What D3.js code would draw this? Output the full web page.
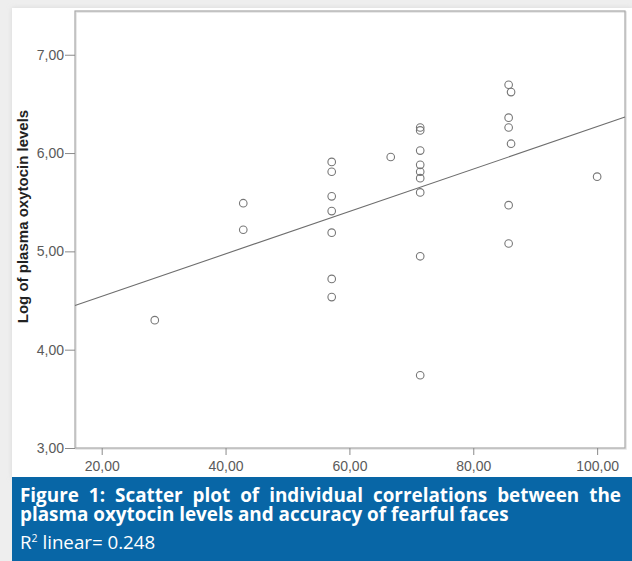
<!DOCTYPE html>
<html>
<head>
  <meta charset="utf-8">
  <script src="https://d3js.org/d3.v7.min.js"></script>
  <style>
    html, body {
      margin: 0;
      padding: 0;
      background: #eeeeee;
    }
    svg {
      display: block;
    }
    .tick-label {
      font-family: "Liberation Sans", Arial, sans-serif;
      font-size: 14px;
      fill: #5a5a5a;
    }
    .caption {
      font-family: "Open Sans", sans-serif;
      fill: #ffffff;
    }
  </style>
</head>
<body>
<script>
  // accuracy of fearful faces (%) and log plasma oxytocin
  var accuracy = [
    28.57,
    42.86, 42.86,
    57.14, 57.14, 57.14, 57.14, 57.14, 57.14, 57.14,
    66.67,
    71.43, 71.43, 71.43, 71.43, 71.43, 71.43, 71.43, 71.43, 71.43,
    85.71, 86.1, 85.71, 85.71, 86.1, 85.71, 85.71,
    100
  ];
  var logOxytocin = [
    4.30,
    5.49, 5.22,
    5.91, 5.81, 5.56, 5.41, 5.19, 4.72, 4.535,
    5.96,
    6.26, 6.23, 6.025, 5.88, 5.81, 5.745, 5.60, 4.95, 3.74,
    6.695, 6.62, 6.36, 6.26, 6.095, 5.47, 5.08,
    5.76
  ];

  // linear fit as drawn in the figure
  var fitIntercept = 4.1115;
  var fitSlope = 0.021575;

  var xTicks = [20, 40, 60, 80, 100];
  var yTicks = [3, 4, 5, 6, 7];

  var yTitle = "Log of plasma oxytocin levels";
  var captionLines = [
    "Figure 1: Scatter plot of individual correlations between the",
    "plasma oxytocin levels and accuracy of fearful faces"
  ];
  var r2Text = "0.248";

  var W = 632, H = 561;
  var plot = { left: 75, right: 625, top: 11, bottom: 448 };

  var svg = d3.select("body").append("svg")
      .attr("width", W)
      .attr("height", H);

  // paper
  var defs = svg.append("defs");
  var blur = defs.append("filter").attr("id", "soft")
      .attr("x", "-5%").attr("y", "-5%").attr("width", "110%").attr("height", "110%");
  blur.append("feGaussianBlur").attr("stdDeviation", 2.5);

  svg.append("rect")
      .attr("x", 12).attr("y", 8).attr("width", W - 12).attr("height", 470)
      .attr("fill", "#d8d8d8").attr("filter", "url(#soft)");
  svg.append("rect")
      .attr("x", 12).attr("y", 8).attr("width", W - 12).attr("height", 470)
      .attr("fill", "#ffffff");

  var x = d3.scaleLinear()
      .domain([15.69, 104.5])
      .range([plot.left, plot.right]);
  var y = d3.scaleLinear()
      .domain([3, 7.445])
      .range([plot.bottom, plot.top]);

  var fmt = function (d) { return d3.format(".2f")(d).replace(".", ","); };

  // frame
  svg.append("rect")
      .attr("x", plot.left + 1).attr("y", plot.top + 1)
      .attr("width", plot.right - plot.left).attr("height", plot.bottom - plot.top)
      .attr("fill", "none").attr("stroke", "#e2e2e2").attr("stroke-width", 1.5);
  svg.append("rect")
      .attr("x", plot.left).attr("y", plot.top)
      .attr("width", plot.right - plot.left).attr("height", plot.bottom - plot.top)
      .attr("fill", "none").attr("stroke", "#a8a8a8").attr("stroke-width", 1.2);

  // y axis
  var yAxis = svg.append("g")
      .attr("transform", "translate(" + plot.left + ",0)")
      .call(d3.axisLeft(y).tickValues(yTicks).tickFormat(fmt).tickSize(10).tickPadding(1));
  yAxis.select(".domain").remove();
  yAxis.selectAll("line").attr("stroke", "#8a8a8a");
  yAxis.selectAll("text").attr("class", "tick-label").attr("fill", null);

  // x axis
  var xAxis = svg.append("g")
      .attr("transform", "translate(0," + plot.bottom + ")")
      .call(d3.axisBottom(x).tickValues(xTicks).tickFormat(fmt).tickSize(7).tickPadding(6));
  xAxis.select(".domain").remove();
  xAxis.selectAll("line").attr("stroke", "#8a8a8a");
  xAxis.selectAll("text").attr("class", "tick-label").attr("fill", null);

  svg.append("text")
      .attr("transform", "translate(28," + ((plot.top + plot.bottom) / 2 - 13) + ") rotate(-90)")
      .attr("text-anchor", "middle")
      .style("font-family", "'Liberation Sans', Arial, sans-serif")
      .style("font-weight", "bold")
      .style("font-size", "15px")
      .style("fill", "#222")
      .text(yTitle);

  // fit line
  var x0 = x.domain()[0], x1 = x.domain()[1];
  svg.append("line")
      .attr("x1", x(x0)).attr("y1", y(fitIntercept + fitSlope * x0))
      .attr("x2", x(x1)).attr("y2", y(fitIntercept + fitSlope * x1))
      .attr("stroke", "#6e6e6e").attr("stroke-width", 1.1);

  // points
  var points = accuracy.map(function (d, i) { return { a: d, o: logOxytocin[i] }; });
  svg.append("g").selectAll("circle")
      .data(points)
      .enter()
      .append("circle")
      .attr("cx", function (d) { return x(d.a); })
      .attr("cy", function (d) { return y(d.o); })
      .attr("r", 3.8)
      .attr("fill", "none")
      .attr("stroke", "#777777")
      .attr("stroke-width", 1.1);

  // caption box
  svg.append("rect")
      .attr("x", 12).attr("y", 477).attr("width", W - 12).attr("height", H - 477)
      .attr("fill", "#0866a6");

  // size the bold caption so the second line runs to about x = 509
  var line2 = svg.append("text")
      .attr("class", "caption")
      .attr("x", 20).attr("y", 521)
      .style("font-weight", "bold").style("font-size", "18px")
      .text(captionLines[1]);
  var capSize = 18 * 489 / line2.node().getComputedTextLength();
  line2.style("font-size", capSize + "px");

  var line1 = svg.append("text")
      .attr("class", "caption")
      .attr("x", 20).attr("y", 502)
      .style("font-weight", "bold").style("font-size", capSize + "px")
      .text(captionLines[0]);
  // justify the first line to the box width
  var natural = line1.node().getComputedTextLength();
  var spaces = captionLines[0].split(" ").length - 1;
  line1.style("word-spacing", ((621 - 20 - natural) / spaces) + "px");

  var r2 = svg.append("text")
      .attr("class", "caption")
      .attr("x", 20).attr("y", 548.5)
      .style("font-size", "17px");
  r2.append("tspan").text("R");
  r2.append("tspan").attr("dy", -7).style("font-size", "10.5px").text("2");
  r2.append("tspan").attr("dy", 7).text(" linear= " + r2Text);
  var r2Size = 17 * 136 / r2.node().getComputedTextLength();
  r2.style("font-size", r2Size + "px");
</script>
</body>
</html>
